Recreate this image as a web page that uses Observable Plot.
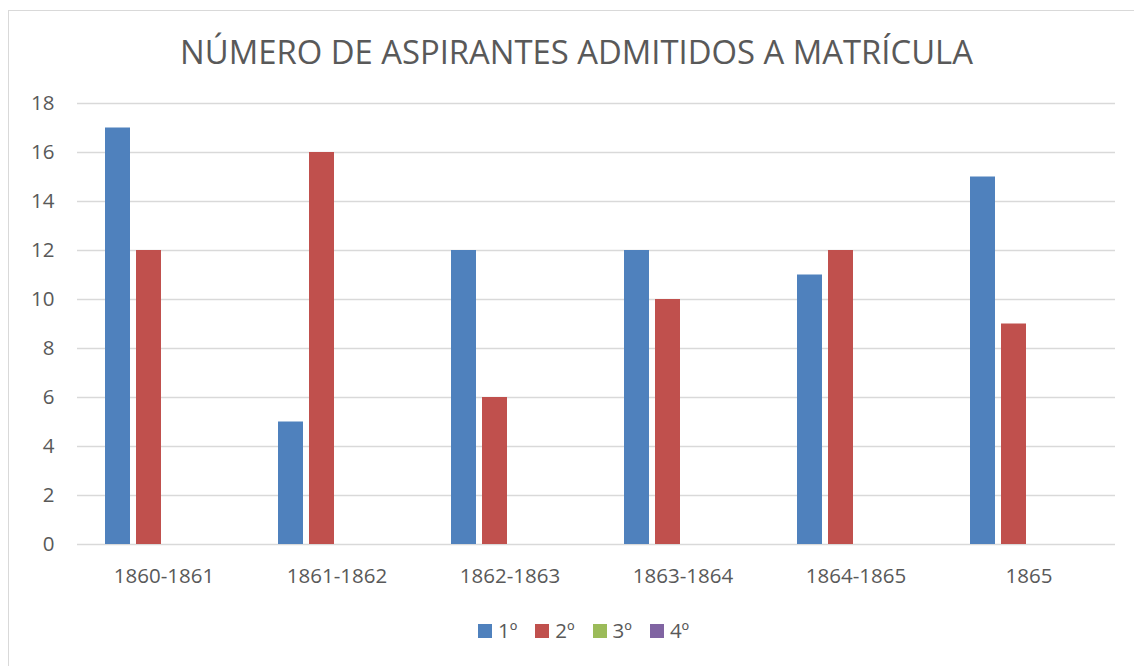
<!DOCTYPE html>
<html>
<head>
<meta charset="utf-8">
<script src="https://cdn.jsdelivr.net/npm/d3@7"></script>
<script src="https://cdn.jsdelivr.net/npm/@observablehq/plot@0.6"></script>
<style>
  html, body { margin: 0; padding: 0; background: #fff; overflow: hidden; }
  #wrap { position: relative; width: 1134px; height: 666px; font-family: "Open Sans", sans-serif; color: #595959; }
  #frame { position: absolute; left: 8px; top: 10px; width: 1140px; height: 670px; border: 1px solid #d9d9d9; box-sizing: border-box; }
  #title { position: absolute; left: 0; top: 36px; width: 1153px; text-align: center; font-size: 32.8px; line-height: 1; white-space: nowrap; }
  #chart { position: absolute; left: 0; top: 0; }
  #legend { position: absolute; top: 620px; left: 478px; height: 22px; font-size: 20.5px; line-height: 1; white-space: nowrap; }
  .item { position: absolute; top: 0; }
  .sw { position: absolute; top: 3.5px; left: 0; width: 14px; height: 14px; }
  .lb { position: absolute; top: 0; left: 20px; }
</style>
</head>
<body>
<div id="wrap">
  <div id="frame"></div>
  <div id="chart"></div>
  <div id="title">NÚMERO DE ASPIRANTES ADMITIDOS A MATRÍCULA</div>
  <div id="legend"></div>
</div>
<script>
const categories = ["1860-1861", "1861-1862", "1862-1863", "1863-1864", "1864-1865", "1865"];
const series = ["1º", "2º", "3º", "4º"];
const values1 = [17, 5, 12, 12, 11, 15];
const values2 = [12, 16, 6, 10, 12, 9];
const values3 = [0, 0, 0, 0, 0, 0];
const values4 = [0, 0, 0, 0, 0, 0];
const yTicks = [0, 2, 4, 6, 8, 10, 12, 14, 16, 18];
const colors = ["#4F81BD", "#C0504D", "#9BBB59", "#8064A2"];

const allValues = [values1, values2, values3, values4];
const rows = [];
categories.forEach((c, i) => {
  series.forEach((s, j) => rows.push({cat: c, series: s, value: allValues[j][i]}));
});

const chart = Plot.plot({
  width: 1134,
  height: 600,
  marginLeft: 77,
  marginRight: 19,
  marginTop: 103,
  marginBottom: 56,
  style: {fontFamily: "Open Sans, sans-serif", fontSize: "20.5px", color: "#595959", background: "transparent", overflow: "visible"},
  fx: {domain: categories, padding: 0, axis: null},
  x: {domain: series, paddingInner: 0.2, paddingOuter: 0.855, axis: null},
  y: {domain: [0, 18], axis: null},
  color: {domain: series, range: colors},
  marks: [
    Plot.gridY(yTicks, {stroke: "#d9d9d9", strokeOpacity: 1, strokeWidth: 1.3}),
    Plot.barY(rows, {fx: "cat", x: "series", y: "value", fill: "series"}),
    Plot.axisY(yTicks, {tickSize: 0, tickPadding: 23, label: null, fill: "#595959"}),
    Plot.axisFx({anchor: "bottom", tickSize: 0, tickPadding: 24, label: null, fill: "#595959"})
  ]
});
document.getElementById("chart").appendChild(chart);

const legend = document.getElementById("legend");
series.forEach((s, i) => {
  const item = document.createElement("div");
  item.className = "item";
  item.style.left = (i * 57.3) + "px";
  const sw = document.createElement("div");
  sw.className = "sw";
  sw.style.background = colors[i];
  const lb = document.createElement("div");
  lb.className = "lb";
  lb.textContent = s;
  item.appendChild(sw);
  item.appendChild(lb);
  legend.appendChild(item);
});
</script>
</body>
</html>
